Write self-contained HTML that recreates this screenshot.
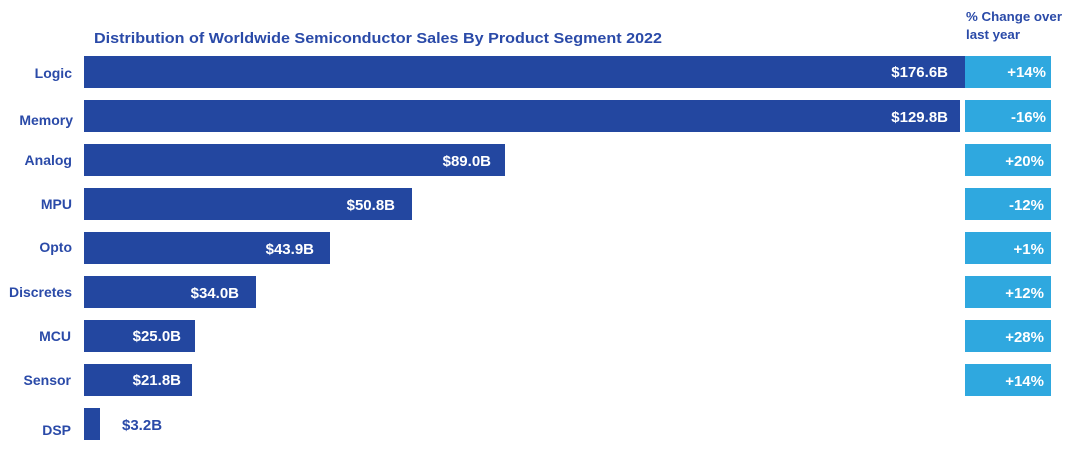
<!DOCTYPE html>
<html><head><meta charset="utf-8"><style>body{margin:0;background:#fff}svg{display:block}text{font-family:"Liberation Sans",sans-serif;font-weight:bold}</style></head><body>
<svg width="1080" height="472" viewBox="0 0 1080 472">
<text x="94" y="43" font-size="15" fill="#2A4AA8" textLength="568" lengthAdjust="spacingAndGlyphs">Distribution of Worldwide Semiconductor Sales By Product Segment 2022</text>
<text x="966" y="21" font-size="13" fill="#2A4AA8" textLength="96" lengthAdjust="spacingAndGlyphs">% Change over</text>
<text x="966" y="39" font-size="13" fill="#2A4AA8" textLength="54" lengthAdjust="spacingAndGlyphs">last year</text>
<g fill="#2347A0">
<rect x="84" y="56" width="881" height="32"/>
<rect x="84" y="100" width="876" height="32"/>
<rect x="84" y="144" width="421" height="32"/>
<rect x="84" y="188" width="328" height="32"/>
<rect x="84" y="232" width="246" height="32"/>
<rect x="84" y="276" width="172" height="32"/>
<rect x="84" y="320" width="111" height="32"/>
<rect x="84" y="364" width="108" height="32"/>
<rect x="84" y="408" width="16" height="32"/>
</g>
<g fill="#2FA8DF">
<rect x="965" y="56" width="86" height="32"/>
<rect x="965" y="100" width="86" height="32"/>
<rect x="965" y="144" width="86" height="32"/>
<rect x="965" y="188" width="86" height="32"/>
<rect x="965" y="232" width="86" height="32"/>
<rect x="965" y="276" width="86" height="32"/>
<rect x="965" y="320" width="86" height="32"/>
<rect x="965" y="364" width="86" height="32"/>
</g>
<g font-size="14" fill="#2A4AA8" text-anchor="end">
<text x="72" y="78">Logic</text>
<text x="73" y="125">Memory</text>
<text x="72" y="165">Analog</text>
<text x="72" y="209">MPU</text>
<text x="72" y="252">Opto</text>
<text x="72" y="297">Discretes</text>
<text x="71" y="341">MCU</text>
<text x="71" y="385">Sensor</text>
<text x="71" y="435">DSP</text>
</g>
<g font-size="15" fill="#fff" text-anchor="end">
<text x="948" y="77">$176.6B</text>
<text x="948" y="122">$129.8B</text>
<text x="491" y="166">$89.0B</text>
<text x="395" y="210">$50.8B</text>
<text x="314" y="254">$43.9B</text>
<text x="239" y="298">$34.0B</text>
<text x="181" y="341">$25.0B</text>
<text x="181" y="385">$21.8B</text>
</g>
<text x="122" y="430" font-size="15" fill="#2A4AA8">$3.2B</text>
<g font-size="15" fill="#fff" text-anchor="end">
<text x="1046" y="77">+14%</text>
<text x="1046" y="122">-16%</text>
<text x="1044" y="166">+20%</text>
<text x="1044" y="210">-12%</text>
<text x="1044" y="254">+1%</text>
<text x="1044" y="298">+12%</text>
<text x="1044" y="342">+28%</text>
<text x="1044" y="386">+14%</text>
</g>
</svg>
</body></html>
